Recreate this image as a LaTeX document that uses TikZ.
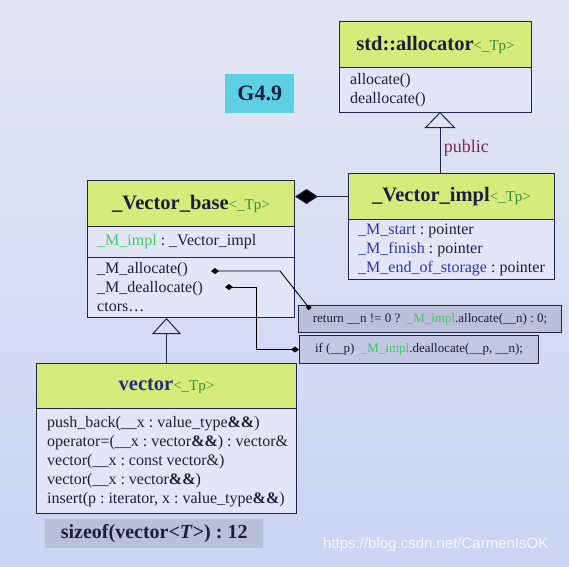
\documentclass[tikz,border=0pt]{standalone}
\usepackage{fontspec}
\setmainfont{Liberation Serif}
\newfontfamily\wmfont{Liberation Sans}
\usetikzlibrary{arrows.meta}
\definecolor{bgtop}{HTML}{E3E6F3}
\definecolor{bgbot}{HTML}{CAD4F4}
\definecolor{bord}{HTML}{1E2548}
\definecolor{hdrg}{HTML}{D6EC7A}
\definecolor{bodyf}{HTML}{E2E6F6}
\definecolor{txt}{HTML}{1C1E3C}
\definecolor{tpg}{HTML}{3C8A3C}
\definecolor{implg}{HTML}{3FCB62}
\definecolor{fldblue}{HTML}{3434A8}
\definecolor{vecblue}{HTML}{262C86}
\definecolor{pubred}{HTML}{8A1E4E}
\definecolor{codebox}{HTML}{BAC0DA}
\definecolor{codebox2}{HTML}{C2C8E2}
\definecolor{sizebox}{HTML}{B9C0D9}
\definecolor{gcyan}{HTML}{5CCFE2}
\newcommand\tpar{{\color{tpg}\fontsize{15}{15}\mdseries\selectfont<\_Tp>}}
\newcommand\fld[1]{{\color{fldblue}#1}}
\newcommand\impl{{\color{implg}\_M\_impl}}
\frenchspacing
\begin{document}
\begin{tikzpicture}[x=1pt,y=-1pt,
  hdr/.style={draw=bord, fill=hdrg, line width=1pt, anchor=north west, inner sep=0pt,
    font=\fontsize{20.5}{22}\selectfont\bfseries, text=txt},
  cmp/.style={draw=bord, fill=bodyf, line width=1pt, anchor=north west, inner sep=0pt},
  cmptext/.style={anchor=west, inner sep=0pt, align=left,
    font=\fontsize{16}{19}\selectfont\frenchspacing, text=txt},
  codebx/.style={draw=bord, line width=1pt, anchor=north west, inner sep=0pt,
    font=\fontsize{13}{15}\selectfont\frenchspacing, text=txt},
  link/.style={draw=black, line width=0.9pt},
  inherit/.style={draw=bord, line width=1pt},
]
\useasboundingbox (0,0) rectangle (569,566);
\fill[top color=bgtop, bottom color=bgbot] (0,0) rectangle (569,566);

% G4.9 label
\node[fill=gcyan, anchor=north west, minimum width=69pt, minimum height=39pt, inner sep=0pt,
  font=\fontsize{22}{24}\selectfont\bfseries, text=txt] (g49) at (225,74) {G4.9};

% std::allocator
\node[hdr, minimum width=192pt, minimum height=46pt] (ah) at (339,21) {std::allocator\tpar};
\node[cmp, minimum width=192pt, minimum height=45pt] (ab) at (339,67) {};
\node[cmptext] (abt) at ([xshift=11pt]ab.west) {allocate()\\deallocate()};

% _Vector_impl
\node[hdr, minimum width=206pt, minimum height=46pt] (ih) at (348,173) {\_Vector\_impl\tpar};
\node[cmp, minimum width=206pt, minimum height=60pt] (ib) at (348,219) {};
\node[cmptext] (ibt) at ([xshift=10pt]ib.west)
  {\fld{\_M\_start} : pointer\\\fld{\_M\_finish} : pointer\\\fld{\_M\_end\_of\_storage} : pointer};

% _Vector_base
\node[hdr, minimum width=207pt, minimum height=46pt] (bh) at (87,180) {\_Vector\_base\tpar};
\node[cmp, minimum width=207pt, minimum height=31pt] (bf) at (87,226) {};
\node[cmptext] (bft) at ([xshift=10pt]bf.west) {\impl{} : \_Vector\_impl};
\node[cmp, minimum width=207pt, minimum height=60pt] (bm) at (87,257) {};
\node[cmptext] (bmt) at ([xshift=10pt]bm.west)
  {\_M\_allocate()\\\_M\_deallocate()\\ctors\dots};

% vector
\node[hdr, minimum width=260pt, minimum height=45pt] (vh) at (36,363) {{\color{vecblue}vector}\tpar};
\node[cmp, minimum width=260pt, minimum height=105pt] (vb) at (36,408) {};
\node[cmptext] (vbt) at ([xshift=11pt,yshift=-1pt]vb.west)
  {push\_back(\_\_x : value\_type\textbf{\&\&})\\
   operator=(\_\_x : vector\textbf{\&\&}) : vector\&\\
   vector(\_\_x : const vector\&)\\
   vector(\_\_x : vector\textbf{\&\&})\\
   insert(p : iterator, x : value\_type\textbf{\&\&})};

% code boxes
\node[codebx, fill=codebox, minimum width=263pt, minimum height=27pt] (ret) at (298,305)
  {return \_\_n != 0 ?\ \ \impl.allocate(\_\_n) : 0;};
\node[codebx, fill=codebox2, minimum width=239pt, minimum height=28pt] (iff) at (299,335)
  {if (\_\_p)\ \ \impl.deallocate(\_\_p, \_\_n);};

% sizeof
\node[fill=sizebox, anchor=north west, minimum width=218pt, minimum height=29pt, inner sep=0pt,
  font=\fontsize{20}{22}\selectfont\bfseries\frenchspacing, text=txt] (sz) at (45,519)
  {sizeof(vector<\textit{T}>) : 12};

% watermark
\node[anchor=west, inner sep=0pt, text=white, opacity=0.85,
  font=\wmfont\fontsize{15}{15}\selectfont] (wm) at (323,545) {https://blog.csdn.net/CarmenIsOK};

% inheritance: _Vector_impl -> std::allocator
\coordinate (atip) at (440,112);
\coordinate (itop) at (440,173);
\draw[inherit, {Triangle[open, length=16pt, width=31pt, line width=1pt]}-] (atip) -- (itop)
  node[pos=0.6, right=0pt, text=pubred, font=\fontsize{18}{18}\selectfont] (pub) {public};

% composition: _Vector_base <>-- _Vector_impl
\draw[inherit, {Diamond[length=23pt, width=15pt, fill=black]}-] (bh.east |- ih.west) -- (ih.west);

% inheritance: vector -> _Vector_base
\draw[inherit, {Triangle[open, length=16pt, width=29pt, line width=1pt]}-] (bm.south -| vh.north) -- (vh.north);

% method links
\coordinate (ma) at (211,271);
\coordinate (ma1) at (280,271);
\coordinate (ra) at (310,309);
\draw[link, {Diamond[length=8pt, width=6pt, fill=black]}-{Square[length=4pt, width=4pt, fill=black]}]
  (ma) -- (ma1) -- (ra);
\coordinate (md) at (225,287);
\coordinate (md1) at (256,287);
\draw[link, {Diamond[length=8pt, width=6pt, fill=black]}-{Diamond[length=8pt, width=6pt, fill=black]}]
  (md) -- (md1) |- (iff.west);
\end{tikzpicture}
\end{document}
